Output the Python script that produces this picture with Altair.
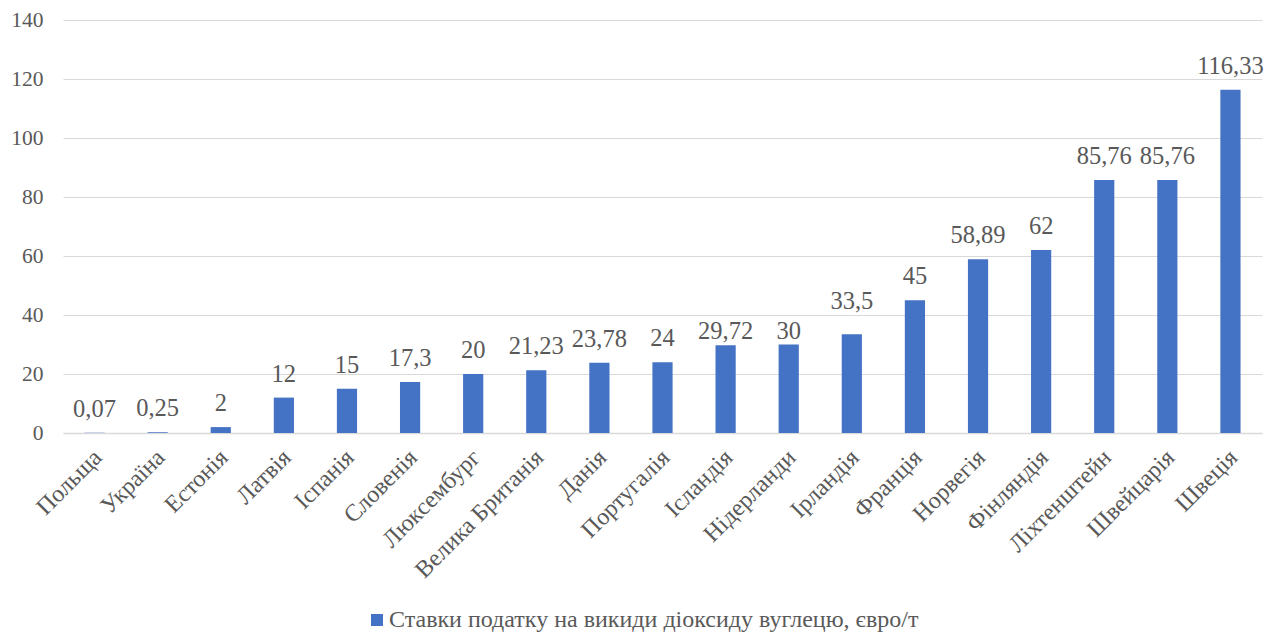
import altair as alt
import pandas as pd

countries = ["Польща", "Україна", "Естонія", "Латвія", "Іспанія", "Словенія",
             "Люксембург", "Велика Британія", "Данія", "Португалія", "Ісландія",
             "Нідерланди", "Ірландія", "Франція", "Норвегія", "Фінляндія",
             "Ліхтенштейн", "Швейцарія", "Швеція"]
values = [0.07, 0.25, 2, 12, 15, 17.3, 20, 21.23, 23.78, 24, 29.72, 30, 33.5,
          45, 58.89, 62, 85.76, 85.76, 116.33]
value_labels = ["0,07", "0,25", "2", "12", "15", "17,3", "20", "21,23", "23,78",
                "24", "29,72", "30", "33,5", "45", "58,89", "62", "85,76",
                "85,76", "116,33"]
series_name = "Ставки податку на викиди діоксиду вуглецю, євро/т"

# labels that were nudged by hand in the original chart
lowered = ["Ісландія", "Нідерланди"]
raised = ["Ірландія"]

df = pd.DataFrame({"country": countries, "value": values,
                   "label": value_labels, "series": series_name})

FONT = "Liberation Serif"
GRAY = "#595959"

x = alt.X("country:N", sort=countries, title=None,
          scale=alt.Scale(paddingInner=0.68, paddingOuter=0.34),
          axis=alt.Axis(labelAngle=-45, labelFontSize=24, labelFont=FONT,
                        labelColor=GRAY, ticks=False, domainColor="#d9d9d9",
                        domainWidth=1.5, labelPadding=12, labelOffset=-5,
                        labelAlign="right", labelBaseline="top",
                        labelLimit=400))

bars = alt.Chart(df).mark_bar(color="#4472c4").encode(
    x=x,
    y=alt.Y("value:Q", title=None,
            scale=alt.Scale(domain=[0, 140]),
            axis=alt.Axis(values=list(range(0, 141, 20)), labelFontSize=21.5,
                          labelFont=FONT, labelColor=GRAY, ticks=False,
                          domain=False, gridColor="#d9d9d9", gridWidth=1.2,
                          labelPadding=20)),
    color=alt.Color("series:N", scale=alt.Scale(range=["#4472c4"]),
                    legend=alt.Legend(title=None, orient="none", legendX=302,
                                      legendY=588, symbolType="square",
                                      symbolSize=144, labelFontSize=24,
                                      labelFont=FONT, labelColor=GRAY,
                                      symbolStrokeWidth=0, labelLimit=800,
                                      labelOffset=0))
)

base_text = alt.Chart(df).encode(
    x=alt.X("country:N", sort=countries),
    y="value:Q",
    text="label:N"
)
txt_kw = dict(font=FONT, fontSize=24.5, color=GRAY, baseline="alphabetic")

texts_default = base_text.mark_text(dy=-16, **txt_kw).transform_filter(
    ~alt.FieldOneOfPredicate(field="country", oneOf=lowered + raised))
texts_low = base_text.mark_text(dy=-6, **txt_kw).transform_filter(
    alt.FieldOneOfPredicate(field="country", oneOf=lowered))
texts_high = base_text.mark_text(dy=-25, **txt_kw).transform_filter(
    alt.FieldOneOfPredicate(field="country", oneOf=raised))

chart = (bars + texts_default + texts_low + texts_high).properties(
    width=1199, height=413,
    autosize=alt.AutoSizeParams(type="none"),
    padding={"left": 55, "top": 12, "right": 7, "bottom": 201}
).configure_view(stroke=None)

chart.save("out.html", embed_options={"renderer": "svg", "actions": False})
